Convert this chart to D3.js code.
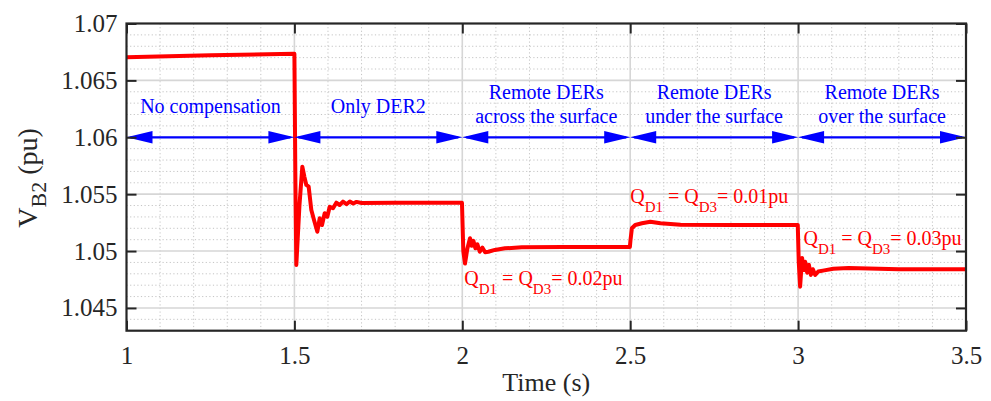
<!DOCTYPE html>
<html>
<head>
<meta charset="utf-8">
<script src="https://cdn.jsdelivr.net/npm/d3@7"></script>
<style>
  html, body { margin: 0; padding: 0; background: #ffffff; }
  svg { display: block; }
  text { font-family: "Liberation Serif", "Times New Roman", serif; }
</style>
</head>
<body>
<svg id="chart" width="991" height="401"></svg>
<script>
// Bus B2 voltage response (pu) versus time (s)
const timeS = [
  1.000, 1.250, 1.4995,
  1.5000, 1.5030, 1.5057, 1.5150, 1.5236, 1.5300, 1.5355, 1.5425, 1.5504, 1.5584, 1.5683,
  1.5753, 1.5822, 1.5902, 1.5980, 1.6051, 1.6150, 1.6248, 1.6347, 1.6447, 1.6550, 1.6650,
  1.6750, 1.6850, 1.7000, 1.8000, 1.9000, 1.9990,
  2.0030, 2.0080, 2.0150, 2.0229, 2.0280, 2.0330, 2.0390, 2.0450, 2.0520, 2.0600, 2.0680,
  2.0775, 2.0970, 2.1270, 2.1770, 2.3000, 2.4990,
  2.5010, 2.5050, 2.5150, 2.5350, 2.5600, 2.5900, 2.6500, 2.8000, 2.9990,
  3.0020, 3.0060, 3.0118, 3.0170, 3.0210, 3.0270, 3.0320, 3.0380, 3.0440, 3.0510, 3.0600,
  3.0780, 3.1050, 3.1500, 3.3000, 3.5000
];
const vB2 = [
  1.06703, 1.06720, 1.06735,
  1.06735, 1.05600, 1.04878, 1.05400, 1.05741, 1.05650, 1.05581, 1.05566, 1.05361, 1.05273, 1.05170,
  1.05288, 1.05229, 1.05332, 1.05302, 1.05390, 1.05376, 1.05425, 1.05405, 1.05434, 1.05412, 1.05436,
  1.05418, 1.05432, 1.05422, 1.05425, 1.05424, 1.05424,
  1.05000, 1.04890, 1.05020, 1.05112, 1.05047, 1.05090, 1.05024, 1.05060, 1.04994, 1.05030, 1.04990,
  1.04994, 1.05010, 1.05024, 1.05033, 1.05036, 1.05036,
  1.05100, 1.05200, 1.05229, 1.05244, 1.05258, 1.05244, 1.05232, 1.05230, 1.05230,
  1.04900, 1.04687, 1.04940, 1.04833, 1.04906, 1.04810, 1.04880, 1.04790, 1.04840, 1.04790, 1.04820,
  1.04830, 1.04845, 1.04850, 1.04840, 1.04840
];

const xTicks = [1, 1.5, 2, 2.5, 3, 3.5];
const yTicks = [1.045, 1.05, 1.055, 1.06, 1.065, 1.07];
const yTickLabels = ["1.045", "1.05", "1.055", "1.06", "1.065", "1.07"];

// Operating modes shown along the 1.06 pu arrow row
const modeStart = [1, 1.5, 2, 2.5, 3];
const modeEnd = [1.5, 2, 2.5, 3, 3.5];
const modeLabels = [
  ["No compensation"],
  ["Only DER2"],
  ["Remote DERs", "across the surface"],
  ["Remote DERs", "under the surface"],
  ["Remote DERs", "over the surface"]
];
const arrowLevel = 1.06;

// Remote reactive power set-points
const qValues = ["0.02pu", "0.01pu", "0.03pu"];

const svg = d3.select("#chart");
const L = 126.5, R = 966, T = 23.5, B = 330.7;

const x = d3.scaleLinear().domain([1, 3.5]).range([L, R]);
const y = d3.scaleLinear().domain([1.043, 1.07]).range([B, T]);

svg.append("rect").attr("width", 991).attr("height", 401).attr("fill", "#ffffff");

// minor grid
const gMinor = svg.append("g");
const minorX = d3.range(11, 35).map(d => d / 10).filter(d => !xTicks.some(t => Math.abs(t - d) < 1e-9));
const minorY = d3.range(1044, 1070).map(d => d / 1000).filter(d => !yTicks.some(t => Math.abs(t - d) < 1e-9));
gMinor.selectAll("line.mx").data(minorX).join("line")
  .attr("x1", d => x(d)).attr("x2", d => x(d)).attr("y1", T).attr("y2", B)
  .attr("stroke", "#c4c4c4").attr("stroke-width", 1).attr("stroke-dasharray", "1.2,2.4");
gMinor.selectAll("line.my").data(minorY).join("line")
  .attr("y1", d => y(d)).attr("y2", d => y(d)).attr("x1", L).attr("x2", R)
  .attr("stroke", "#c4c4c4").attr("stroke-width", 1).attr("stroke-dasharray", "1.2,2.4");

// major grid
const gMajor = svg.append("g");
gMajor.selectAll("line.gx").data(xTicks.slice(1, -1)).join("line")
  .attr("x1", d => x(d)).attr("x2", d => x(d)).attr("y1", T).attr("y2", B)
  .attr("stroke", "#d6d6d6").attr("stroke-width", 1.6);
gMajor.selectAll("line.gy").data(yTicks.slice(0, -1)).join("line")
  .attr("y1", d => y(d)).attr("y2", d => y(d)).attr("x1", L).attr("x2", R)
  .attr("stroke", "#d6d6d6").attr("stroke-width", 1.6);

// voltage trace
const line = d3.line().x((d, i) => x(timeS[i])).y(d => y(d));
svg.append("path").datum(vB2)
  .attr("d", line)
  .attr("fill", "none")
  .attr("stroke", "#ff0000")
  .attr("stroke-width", 4)
  .attr("stroke-linejoin", "round");

// mode arrows
const blue = "#0000ff";
const ay = y(arrowLevel);
const headLen = 26, headHalf = 6.2;
modeStart.forEach((s, i) => {
  const x0 = x(s), x1 = x(modeEnd[i]);
  svg.append("line").attr("x1", x0 + 4).attr("x2", x1 - 4).attr("y1", ay).attr("y2", ay)
    .attr("stroke", blue).attr("stroke-width", 2.2);
  const p = d3.path();
  p.moveTo(x0, ay); p.lineTo(x0 + headLen, ay - headHalf); p.lineTo(x0 + headLen, ay + headHalf); p.closePath();
  p.moveTo(x1, ay); p.lineTo(x1 - headLen, ay - headHalf); p.lineTo(x1 - headLen, ay + headHalf); p.closePath();
  svg.append("path").attr("d", p.toString()).attr("fill", blue);

  const cx = (x0 + x1) / 2;
  const lines = modeLabels[i];
  const base = lines.length === 1 ? [113] : [98.5, 122.5];
  lines.forEach((t, j) => {
    svg.append("text").attr("x", cx).attr("y", base[j])
      .attr("text-anchor", "middle").attr("font-size", 20).attr("fill", blue).text(t);
  });
});

// set-point annotations
const red = "#ff0000";
const qPos = [[2.006, 285.4], [2.5, 203.4], [3.016, 245]];
qValues.forEach((val, i) => {
  const t = svg.append("text").attr("x", x(qPos[i][0])).attr("y", qPos[i][1])
    .attr("font-size", 20).attr("fill", red);
  t.append("tspan").text("Q");
  t.append("tspan").attr("dy", 8.6).attr("font-size", 15).text("D1");
  t.append("tspan").attr("dy", -8.6).text(" = Q");
  t.append("tspan").attr("dy", 8.6).attr("font-size", 15).text("D3");
  t.append("tspan").attr("dy", -8.6).text("= " + val);
});

// axes
const axisColor = "#262626";
const fmtY = d => yTickLabels[yTicks.indexOf(d)];
const gl = svg.append("g").attr("transform", `translate(${L},0)`)
  .call(d3.axisLeft(y).tickValues(yTicks).tickFormat(fmtY).tickSizeInner(-10).tickSizeOuter(0).tickPadding(9));
const gr = svg.append("g").attr("transform", `translate(${R},0)`)
  .call(d3.axisRight(y).tickValues(yTicks).tickFormat("").tickSizeInner(-10).tickSizeOuter(0));
const gb = svg.append("g").attr("transform", `translate(0,${B})`)
  .call(d3.axisBottom(x).tickValues(xTicks).tickFormat(d3.format("")).tickSizeInner(-10).tickSizeOuter(0).tickPadding(16));
const gt = svg.append("g").attr("transform", `translate(0,${T})`)
  .call(d3.axisTop(x).tickValues(xTicks).tickFormat("").tickSizeInner(-10).tickSizeOuter(0));
[gl, gr, gb, gt].forEach(g => {
  g.attr("font-size", null).attr("font-family", null);
  g.select(".domain").remove();
  g.selectAll(".tick line").attr("stroke", axisColor).attr("stroke-width", 2);
  g.selectAll(".tick text").attr("fill", axisColor).style("font-size", "25px")
    .style("font-family", "'Liberation Serif', 'Times New Roman', serif");
});
svg.append("rect").attr("x", L).attr("y", T).attr("width", R - L).attr("height", B - T)
  .attr("fill", "none").attr("stroke", axisColor).attr("stroke-width", 2.2);

// axis titles
svg.append("text").attr("x", (L + R) / 2).attr("y", 391).attr("text-anchor", "middle")
  .attr("font-size", 26).attr("fill", axisColor).text("Time (s)");
const yl = svg.append("text").attr("transform", `translate(37,178) rotate(-90)`)
  .attr("text-anchor", "middle").attr("font-size", 28).attr("fill", axisColor);
yl.append("tspan").text("V");
yl.append("tspan").attr("dy", 9).attr("font-size", 22).text("B2");
yl.append("tspan").attr("dy", -9).text(" (pu)");
</script>
</body>
</html>
